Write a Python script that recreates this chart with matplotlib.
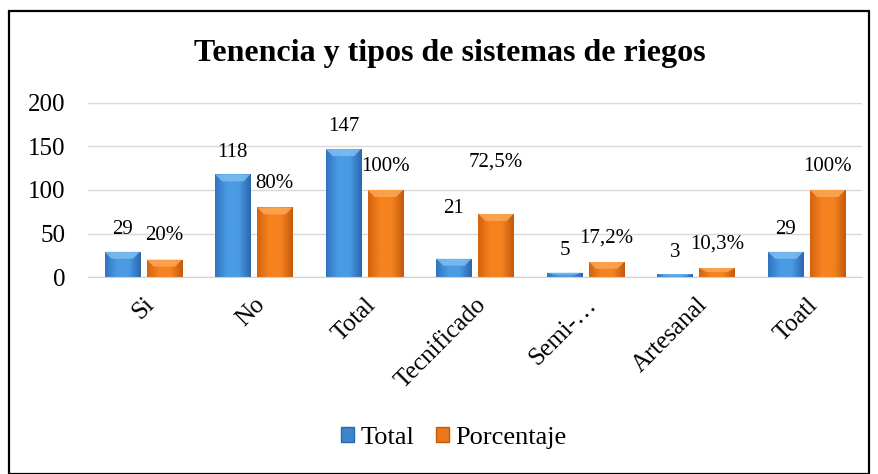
import numpy as np
import matplotlib.pyplot as plt
from matplotlib.patches import Rectangle, Polygon, Patch
from matplotlib.colors import LinearSegmentedColormap

plt.rcParams['font.family'] = ['Liberation Serif', 'DejaVu Serif']

# data
categories = ['Si', 'No', 'Total', 'Tecnificado', 'Semi-…', 'Artesanal', 'Toatl']
total = [29, 118, 147, 21, 5, 3, 29]
porcentaje = [20, 80, 100, 72.5, 17.2, 10.3, 100]
total_labels = ['29', '118', '147', '21', '5', '3', '29']
pct_labels = ['20%', '80%', '100%', '72,5%', '17,2%', '10,3%', '100%']
y_ticks = [0, 50, 100, 150, 200]

# label lift above the bar top, in points
label_lift = [17, 17, 17, 37, 17, 17, 17]

fig = plt.figure(figsize=(8.79, 4.74), dpi=100)
ax = fig.add_axes([88 / 879, 1 - 277 / 474, (862 - 88) / 879, (277 - 103) / 474])

x = np.arange(len(categories))
w = 0.32
off = 0.19

blue = LinearSegmentedColormap.from_list('b', ['#2F74C0', '#4A9BE3', '#4A9BE3', '#2A67AE'])
orange = LinearSegmentedColormap.from_list('o', ['#D4630F', '#F5821F', '#F5821F', '#C45A0C'])

bars_t = ax.bar(x - off, total, w, color='#4393DD', edgecolor='none', zorder=2)
bars_p = ax.bar(x + off, porcentaje, w, color='#F07C1C', edgecolor='none', zorder=2)

# pixel sizes in data units for the bevel
px_x = 1 / 110.6
px_y = 200 / 174
grad = np.linspace(0, 1, 64).reshape(1, -1)


def shade(bars, cmap, top_color):
    for b in bars:
        bx, by = b.get_x(), b.get_y()
        bw, bh = b.get_width(), b.get_height()
        im = ax.imshow(grad, cmap=cmap, aspect='auto', extent=[bx, bx + bw, by, by + bh],
                       zorder=2.1)
        im.set_clip_path(b)
        bev = min(7 * px_y, bh * 0.45)
        ins = min(7 * px_x, bw * 0.3)
        top = by + bh
        ax.add_patch(Polygon([[bx, top], [bx + bw, top], [bx + bw - ins, top - bev],
                              [bx + ins, top - bev]], closed=True, color=top_color,
                             alpha=0.85, lw=0, zorder=2.2))


shade(bars_t, blue, '#7DBDF2')
shade(bars_p, orange, '#FDA656')
ax.set_xlim(-0.5, len(categories) - 0.5)
ax.set_ylim(0, 200)

for i in range(len(categories)):
    ax.annotate(total_labels[i], (x[i] - off, total[i]), xytext=(0, label_lift[i] - 1),
                textcoords='offset points', ha='center', va='center', fontsize=15)
    ax.annotate(pct_labels[i], (x[i] + off, porcentaje[i]), xytext=(0, label_lift[i]),
                textcoords='offset points', ha='center', va='center', fontsize=15)

ax.set_yticks(y_ticks)
ax.set_yticklabels([str(t) for t in y_ticks], fontsize=18)
ax.set_xticks(x)
ax.set_xticklabels(categories, rotation=45, ha='right', va='top',
                   rotation_mode='anchor', fontsize=18)
ax.tick_params(length=0)
ax.tick_params(axis='y', pad=16)
ax.tick_params(axis='x', pad=12)
ax.grid(axis='y', color='#D9D9D9', lw=1, zorder=0)
ax.set_axisbelow(True)
for s in ['top', 'right', 'left']:
    ax.spines[s].set_visible(False)
ax.spines['bottom'].set_color('#D0D0D0')

fig.text(450 / 879, 1 - 53 / 474, 'Tenencia y tipos de sistemas de riegos',
         ha='center', va='center', fontsize=23, fontweight='bold')

handles = [Patch(facecolor='#3E86CC', edgecolor='#2A67AE'),
           Patch(facecolor='#E8781C', edgecolor='#C45A0C')]
fig.legend(handles, ['Total', 'Porcentaje'], loc='center', bbox_to_anchor=(454 / 879, 1 - 438 / 474),
           ncol=2, frameon=False, fontsize=19, handlelength=0.5, handleheight=0.5,
           handletextpad=0.25, columnspacing=0.8)

fig.add_artist(Rectangle((9 / 879, 0.0), 860 / 879, 1 - 11 / 474, transform=fig.transFigure,
                         fill=False, edgecolor='black', lw=1.6))

fig.savefig('out.png', dpi=100)
